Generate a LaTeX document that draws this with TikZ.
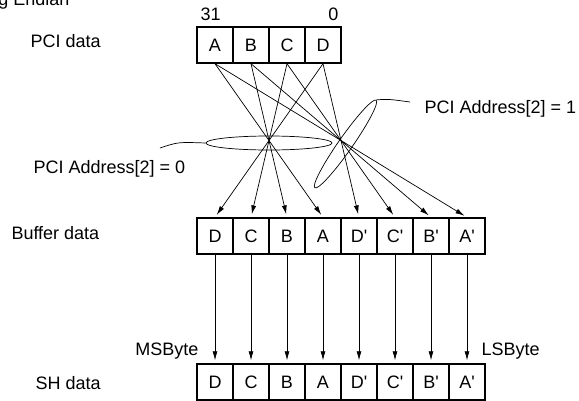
\documentclass[tikz,border=0pt]{standalone}
\usepackage{fontspec}
\setmainfont{Liberation Sans}
\usepackage{tikz}
\usetikzlibrary{shapes,arrows.meta,positioning,calc}

\begin{document}
\begin{tikzpicture}[x=1pt,y=-1pt,
    font=\fontsize{18}{21}\selectfont,
    byte/.style={draw,line width=1.4pt,minimum width=36pt,minimum height=36pt,inner sep=0pt},
    conn/.style={-{Latex[length=9pt,width=5pt]},line width=0.7pt,shorten >=3pt},
    sel/.style={draw,ellipse,line width=0.7pt,inner sep=0pt,minimum height=14pt}]
      \useasboundingbox (0,0) rectangle (579,400);
      \clip (0,0) rectangle (579,400);
      \node[anchor=base east] (title) at (73,5) {Big Endian};
      % Row labels
      \node[anchor=base west] (pcilbl) at (27,47) {PCI data};
      \node[anchor=base west] (buflbl) at (8,239) {Buffer data};
      \node[anchor=base west] (shlbl) at (32,389) {SH data};
      % PCI data bytes
      \foreach \n [count=\i from 0] in {A,B,C,D}
        \node[byte] (p\n) at (215+36*\i,45) {\n};
      \node[anchor=base west] (msb) at (197,20) {31};
      \node[anchor=base east] (lsb) at (342,20) {0};
      % Buffer and SH bytes
      \foreach \n/\t [count=\i from 0] in {D/D,C/C,B/B,A/A,pD/D\textquotesingle,pC/C\textquotesingle,pB/B\textquotesingle,pA/A\textquotesingle}{
        \node[byte] (b\n) at (215+36*\i,236) {\t};
        \node[byte] (s\n) at (215+36*\i,382) {\t};
      }
      % Byte swaps
      \foreach \n in {A,B,C,D}{
        \draw[conn] (p\n.south) -- (b\n.north);
        \draw[conn] (p\n.south) -- (bp\n.north);
      }
      \foreach \n in {D,C,B,A,pD,pC,pB,pA}
        \draw[conn] (b\n.south) -- (s\n.north);
      % Address selects
      \node[sel,minimum width=126pt] (sel0) at (269,143) {};
      \node[sel,rotate=55,minimum width=107pt] (sel1) at (345.5,144) {};
      \node[anchor=base west] (addr0) at (30,173) {PCI Address[2] = 0};
      \node[anchor=base west] (addr1) at (421,113) {PCI Address[2] = 1};
      \draw[line width=0.7pt] (sel0.west) .. controls (178,142) .. (160,148);
      \draw[line width=0.7pt] (sel1.east) .. controls (388,99) .. (410,102);
      \node[anchor=base east] (msbyte) at (202,355) {MSByte};
      \node[anchor=base west] (lsbyte) at (478,355) {LSByte};
\end{tikzpicture}
\end{document}
